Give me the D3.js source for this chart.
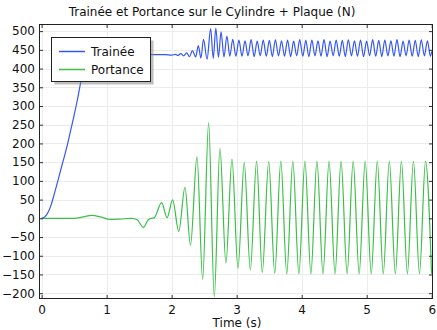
<!DOCTYPE html>
<html>
<head>
<meta charset="utf-8">
<script src="https://cdn.jsdelivr.net/npm/d3@7"></script>
<style>
  html, body { margin: 0; padding: 0; background: #fff; }
  svg { display: block; font-family: "DejaVu Sans", sans-serif; }
</style>
</head>
<body>
<svg id="chart" width="437" height="330"></svg>
<script>
// ---- Data ----
const title = "Trainée et Portance sur le Cylindre + Plaque (N)";
const xLabel = "Time (s)";
const seriesNames = ["Trainée", "Portance"];
const xTicks = [0, 1, 2, 3, 4, 5, 6];
const yTicks = [-200, -150, -100, -50, 0, 50, 100, 150, 200, 250, 300, 350, 400, 450, 500];

// Trainée (drag)
const dragTime = [
  0, 0.05, 0.1, 0.15, 0.2, 0.25, 0.3, 0.35, 0.4, 0.45, 0.5, 0.55, 0.6, 0.65, 0.7, 0.75, 0.8,
  1.0, 1.3, 1.6, 1.9, 2.0, 2.06, 2.1, 2.14, 2.185, 2.23, 2.275, 2.32, 2.37, 2.41, 2.45, 2.49,
  2.545, 2.6, 2.64, 2.68, 2.72, 2.76, 2.805, 2.85, 2.895, 2.94, 2.988,
  3.035, 3.082, 3.129, 3.175, 3.222, 3.269, 3.316, 3.362, 3.409, 3.456, 3.503, 3.549,
  3.596, 3.643, 3.690, 3.736, 3.783, 3.830, 3.877, 3.923, 3.970, 4.017, 4.064, 4.110,
  4.157, 4.204, 4.251, 4.297, 4.344, 4.391, 4.438, 4.484, 4.531, 4.578, 4.625, 4.671,
  4.718, 4.765, 4.812, 4.858, 4.905, 4.952, 4.999, 5.045, 5.092, 5.139, 5.186, 5.232,
  5.279, 5.326, 5.373, 5.419, 5.466, 5.513, 5.560, 5.606, 5.653, 5.700, 5.747, 5.793,
  5.840, 5.887, 5.934, 5.980, 6.0
];
const dragForce = [
  0, 4, 16, 38, 68, 100, 133, 165, 199, 237, 275, 316, 362, 400, 422, 432, 436,
  437, 436, 437, 437, 436, 438, 435, 440, 434, 442, 432, 448, 431, 461, 428, 478,
  425, 507, 427, 508, 430, 498, 431, 487, 433, 478, 433,
  476, 433, 474, 434, 477, 432, 473, 434, 476, 433, 475, 432,
  477, 434, 474, 433, 476, 432, 473, 434, 477, 433, 475, 432,
  476, 434, 474, 433, 477, 432, 473, 434, 476, 433, 475, 432,
  477, 434, 474, 433, 476, 432, 473, 434, 477, 433, 475, 432,
  476, 434, 474, 433, 477, 432, 473, 434, 476, 433, 475, 432,
  477, 434, 474, 433, 446
];

// Portance (lift)
const liftTime = [
  0, 0.5, 0.62, 0.77, 0.92, 1.05, 1.2, 1.38, 1.47, 1.565, 1.64, 1.69, 1.73,
  1.846, 1.93, 2.015, 2.11, 2.205, 2.29, 2.39, 2.477, 2.569, 2.656, 2.743, 2.835,
  2.928, 3.02, 3.117, 3.21,
  3.307, 3.394, 3.493, 3.586, 3.679, 3.771, 3.864, 3.957, 4.050, 4.142, 4.235, 4.328,
  4.421, 4.513, 4.606, 4.699, 4.792, 4.884, 4.977, 5.070, 5.163, 5.255, 5.348, 5.441,
  5.534, 5.626, 5.719, 5.812, 5.905, 5.998
];
const liftForce = [
  0, 0, 3, 8, 3, -3, -2, 0, -4, -24, -4, 0, 1,
  42, 2, 49, -35, 83, -72, 165, -163, 255, -209, 187, -120,
  158, -134, 149, -138,
  153, -145, 152, -147, 153, -148, 153, -148, 153, -148, 153, -148,
  153, -148, 153, -148, 153, -148, 153, -148, 153, -148, 153, -148,
  153, -148, 153, -148, 153, -148
];

const colors = ["#3658f0", "#3cbf48"];

// ---- Layout ----
const svg = d3.select("#chart");
const mLeft = 39, mRight = 433, mTop = 24, mBottom = 299;

const x = d3.scaleLinear().domain([-0.04, 6.02]).range([mLeft, mRight]);
const y = d3.scaleLinear().domain([-215.5, 519]).range([mBottom, mTop]);

// grid
const grid = svg.append("g").attr("stroke", "#ececec").attr("stroke-width", 1);
grid.selectAll("line.gx").data(xTicks).join("line").attr("class", "gx")
  .attr("x1", d => Math.round(x(d)) + 0.5).attr("x2", d => Math.round(x(d)) + 0.5)
  .attr("y1", mTop).attr("y2", mBottom);
grid.selectAll("line.gy").data(yTicks).join("line").attr("class", "gy")
  .attr("y1", d => Math.round(y(d)) + 0.5).attr("y2", d => Math.round(y(d)) + 0.5)
  .attr("x1", mLeft).attr("x2", mRight);

// clip
svg.append("clipPath").attr("id", "clip").append("rect")
  .attr("x", mLeft).attr("y", mTop).attr("width", mRight - mLeft).attr("height", mBottom - mTop);

const line = d3.line()
  .x(d => x(d[0])).y(d => y(d[1]))
  .curve(d3.curveMonotoneX);

const dragData = dragTime.map((t, i) => [t, dragForce[i]]);
const liftData = liftTime.map((t, i) => [t, liftForce[i]]);

const plot = svg.append("g").attr("clip-path", "url(#clip)");
plot.append("path").datum(liftData).attr("d", line)
  .attr("fill", "none").attr("stroke", colors[1]).attr("stroke-width", 1.2);
plot.append("path").datum(dragData).attr("d", line)
  .attr("fill", "none").attr("stroke", colors[0]).attr("stroke-width", 1.2);

// axes
const fmt = d3.format("d");
const axL = svg.append("g").attr("transform", `translate(${mLeft},0)`)
  .call(d3.axisLeft(y).tickValues(yTicks).tickSize(-4).tickPadding(4).tickFormat(fmt));
const axR = svg.append("g").attr("transform", `translate(${mRight},0)`)
  .call(d3.axisRight(y).tickValues(yTicks).tickSize(-4).tickFormat(""));
const axB = svg.append("g").attr("transform", `translate(0,${mBottom})`)
  .call(d3.axisBottom(x).tickValues(xTicks).tickSize(-4).tickPadding(6).tickFormat(fmt));
const axT = svg.append("g").attr("transform", `translate(0,${mTop})`)
  .call(d3.axisTop(x).tickValues(xTicks).tickSize(-4).tickFormat(""));
[axL, axR, axB, axT].forEach(a => {
  a.select(".domain").remove();
  a.selectAll("line").attr("stroke", "#333");
  a.selectAll("text").attr("font-size", 12).attr("fill", "#111")
    .attr("font-family", "DejaVu Sans, sans-serif");
});

// frame
svg.append("rect").attr("x", mLeft + 0.5).attr("y", mTop + 0.5)
  .attr("width", mRight - mLeft - 1).attr("height", mBottom - mTop - 1)
  .attr("fill", "none").attr("stroke", "#222").attr("stroke-width", 1);

// title & labels
svg.append("text").attr("x", 212).attr("y", 16).attr("text-anchor", "middle")
  .attr("font-size", 12).attr("fill", "#111").text(title);
svg.append("text").attr("x", 237).attr("y", 327).attr("text-anchor", "middle")
  .attr("font-size", 12).attr("fill", "#111").text(xLabel);

// legend
const lg = svg.append("g");
lg.append("rect").attr("x", 54.5).attr("y", 40.5).attr("width", 99).attr("height", 44)
  .attr("fill", "#888").attr("opacity", 0.55);
lg.append("rect").attr("x", 51.5).attr("y", 37.5).attr("width", 99).attr("height", 44)
  .attr("fill", "#fff").attr("stroke", "#222").attr("stroke-width", 1);
seriesNames.forEach((name, i) => {
  const yy = 51.5 + i * 18;
  lg.append("line").attr("x1", 59).attr("x2", 85).attr("y1", yy).attr("y2", yy)
    .attr("stroke", colors[i]).attr("stroke-width", 1.5);
  lg.append("text").attr("x", 91).attr("y", yy + 4.5).attr("font-size", 12)
    .attr("fill", "#111").text(name);
});
</script>
</body>
</html>
